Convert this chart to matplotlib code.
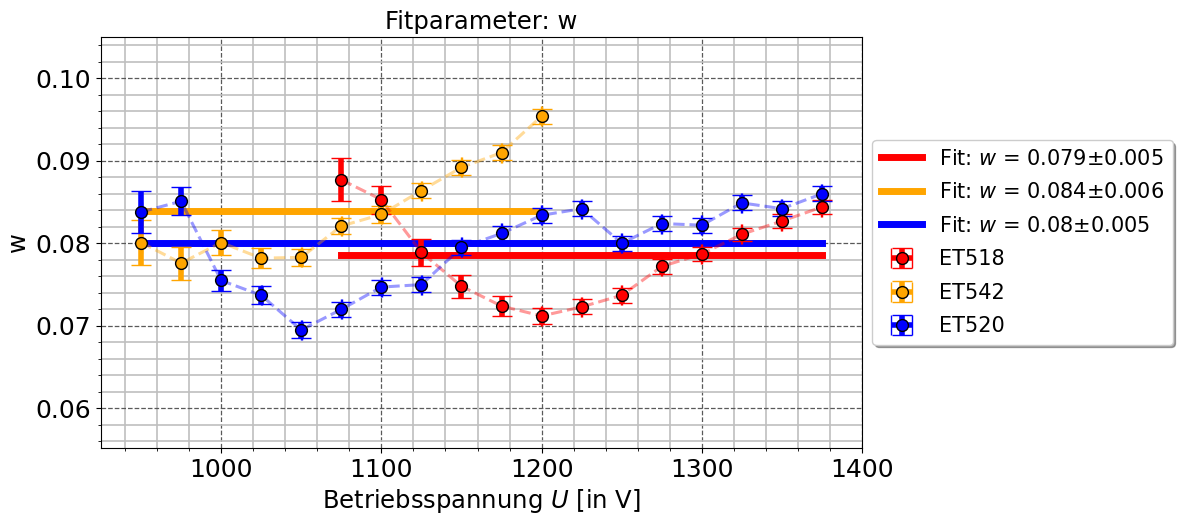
import numpy as np
import matplotlib
matplotlib.use("Agg")
from matplotlib import pyplot as plt
from matplotlib.ticker import AutoMinorLocator

# Betriebsspannung in V
U_518 = [1075, 1100, 1125, 1150, 1175, 1200, 1225, 1250, 1275, 1300, 1325, 1350, 1375]
U_542 = [950, 975, 1000, 1025, 1050, 1075, 1100, 1125, 1150, 1175, 1200]
U_520 = [950, 975, 1000, 1025, 1050, 1075, 1100, 1125, 1150, 1175, 1200,
         1225, 1250, 1275, 1300, 1325, 1350, 1375]

# Fitparameter w und Fehler
w_518 = [0.0877, 0.0853, 0.0789, 0.0748, 0.0724, 0.0712, 0.0723, 0.0737,
         0.0772, 0.0787, 0.0811, 0.0827, 0.0844]
dw_518 = [0.0026, 0.0017, 0.0016, 0.0014, 0.0012, 0.0010, 0.0009, 0.0009,
          0.0009, 0.0008, 0.0008, 0.0008, 0.0008]
w_542 = [0.0801, 0.0776, 0.0801, 0.0782, 0.0783, 0.0821, 0.0835, 0.0864,
         0.0892, 0.0910, 0.0954]
dw_542 = [0.0027, 0.0020, 0.0015, 0.0012, 0.0010, 0.0010, 0.0010, 0.0009,
          0.0009, 0.0009, 0.0009]
w_520 = [0.0838, 0.0851, 0.0755, 0.0737, 0.0695, 0.0720, 0.0747, 0.0750,
         0.0795, 0.0812, 0.0834, 0.0842, 0.0800, 0.0824, 0.0822, 0.0849,
         0.0842, 0.0860]
dw_520 = [0.0026, 0.0017, 0.0013, 0.0011, 0.0010, 0.0009, 0.0009, 0.0009,
          0.0009, 0.0009, 0.0009, 0.0009, 0.0009, 0.0009, 0.0009, 0.0009,
          0.0009, 0.0009]

# konstanter Fit je Roehre
fit_w = [0.0786, 0.0839, 0.0801]
fit_dw = [0.005, 0.006, 0.005]

names = ["ET518", "ET542", "ET520"]
colors = ["red", "orange", "blue"]
U_all = [U_518, U_542, U_520]
w_all = [w_518, w_542, w_520]
dw_all = [dw_518, dw_542, dw_520]

fig = plt.figure(figsize=(11.77, 5.15), dpi=100)
ax = fig.add_axes([0.0858, 0.1301, 0.6466, 0.798])

for U, f, df, c in zip(U_all, fit_w, fit_dw, colors):
    ax.plot([U[0], U[-1]], [f, f], color=c, lw=5,
            label=f"Fit: $w$ = {round(f, 3)}±{df}")

for U, w, dw, c, name in zip(U_all, w_all, dw_all, colors, names):
    ax.plot(U, w, "--", color=c, lw=2.2, alpha=0.4)
    ax.errorbar(U, w, yerr=dw, xerr=0.3, fmt="o", color=c, ms=8.5,
                mec="black", mew=1, elinewidth=4, capsize=7.5, capthick=1.5,
                label=name)

ax.set_xlim(925, 1400)
ax.set_ylim(0.0552, 0.105)
ax.set_xticks([1000, 1100, 1200, 1300, 1400])
ax.set_yticks([0.06, 0.07, 0.08, 0.09, 0.10])
ax.xaxis.set_minor_locator(AutoMinorLocator(5))
ax.yaxis.set_minor_locator(AutoMinorLocator(5))
ax.grid(which="major", color="0.35", ls="--", lw=0.9)
ax.grid(which="minor", color="0.75", ls="-", lw=1.2)
ax.set_axisbelow(True)
ax.tick_params(labelsize=18)

ax.set_title("Fitparameter: w", fontsize=17.5)
ax.set_xlabel("Betriebsspannung $U$ [in V]", fontsize=17.5)
ax.set_ylabel("w", fontsize=17.5)
ax.legend(loc="center left", bbox_to_anchor=(1.0, 0.5), fontsize=15,
          labelspacing=0.65, shadow=True)

plt.savefig("out.png")
plt.close()
